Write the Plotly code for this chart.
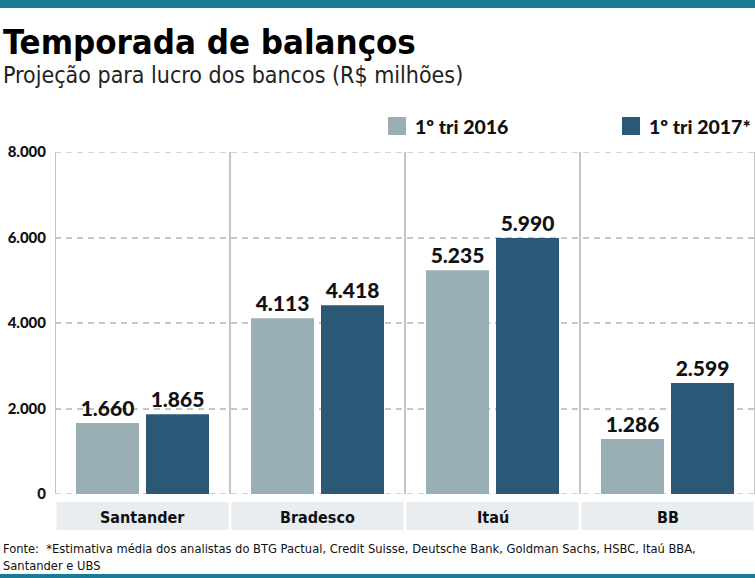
import plotly.graph_objects as go

categories = ["Santander", "Bradesco", "Itaú", "BB"]
series_names = ["1º tri 2016", "1º tri 2017*"]
values_2016 = [1660, 4113, 5235, 1286]
values_2017 = [1865, 4418, 5990, 2599]
y_ticks = [0, 2000, 4000, 6000, 8000]
y_tick_labels = ["0", "2.000", "4.000", "6.000", "8.000"]

W, H = 755, 578
L, R, T, B = 55, 0, 152, 84
PW, PH = W - L - R, H - T - B

def px(x):
    return (x - L) / PW

def py(y):
    return (H - B - y) / PH

LIGHT = "#9aaeb6"
DARK = "#2c5877"
TEAL = "#1a7b97"
NARROW = "Liberation Sans Narrow, DejaVu Sans Condensed, sans-serif"
BOLDF = "Lato, Liberation Sans, sans-serif"
GRID = "#c6c6c6"
DASH = "6px,5px"

fig = go.Figure()
for name, vals, col in [(series_names[0], values_2016, LIGHT), (series_names[1], values_2017, DARK)]:
    fig.add_trace(go.Bar(
        x=categories, y=vals, name=name, marker=dict(color=col, line=dict(width=0)),
        texttemplate="%{y:,.0f}", textposition="outside",
        textfont=dict(family=BOLDF, size=21, color="#111", weight=900),
        cliponaxis=False, showlegend=False,
    ))

shapes = []
# top and bottom teal bars
shapes.append(dict(type="rect", xref="paper", yref="paper", x0=px(0), x1=px(W), y0=py(0), y1=py(8),
                   fillcolor=TEAL, line=dict(width=0), layer="above"))
shapes.append(dict(type="rect", xref="paper", yref="paper", x0=px(0), x1=px(W), y0=py(574), y1=py(578),
                   fillcolor=TEAL, line=dict(width=0), layer="above"))
# edge grid lines (0 and top) that plotly does not draw at range ends
for v in (y_ticks[0], y_ticks[-1]):
    shapes.append(dict(type="line", xref="paper", yref="y", x0=0, x1=1, y0=v, y1=v,
                       line=dict(color=GRID, width=1.5, dash=DASH), layer="below"))
# vertical separators
for i in range(len(categories) + 1):
    shapes.append(dict(type="line", xref="x", yref="paper", x0=i - 0.5, x1=i - 0.5, y0=0, y1=1,
                       line=dict(color="#c4c4c4", width=2), layer="below"))
# category label band
for i in range(len(categories)):
    shapes.append(dict(type="rect", xref="x", yref="paper", x0=i - 0.5 + 0.008, x1=i + 0.5 - 0.008,
                       y0=py(530), y1=py(502), fillcolor="#e9edf0", line=dict(width=0), layer="below"))

annotations = []
for i, c in enumerate(categories):
    annotations.append(dict(x=i, y=py(517), xref="x", yref="paper", text=f"<b>{c}</b>", showarrow=False,
                            font=dict(family=NARROW, size=16, color="#111"), xanchor="center", yanchor="middle"))

annotations.append(dict(x=px(1), y=py(42), xref="paper", yref="paper", text="<b>Temporada de balanços</b>",
                        showarrow=False, font=dict(family=NARROW, size=34.5, color="#000"),
                        xanchor="left", yanchor="middle"))
annotations.append(dict(x=px(1), y=py(75), xref="paper", yref="paper", text="Projeção para lucro dos bancos (R$ milhões)",
                        showarrow=False, font=dict(family=NARROW, size=23, color="#222"),
                        xanchor="left", yanchor="middle"))
annotations.append(dict(x=px(1), y=py(557), xref="paper", yref="paper",
                        text="Fonte:  *Estimativa média dos analistas do BTG Pactual, Credit Suisse, Deutsche Bank, Goldman Sachs, HSBC, Itaú BBA,<br>Santander e UBS",
                        showarrow=False, align="left", font=dict(family=NARROW, size=12.8, color="#111"),
                        xanchor="left", yanchor="middle"))

# legend
for (x0, name, col) in [(388, series_names[0], LIGHT), (622, series_names[1], DARK)]:
    shapes.append(dict(type="rect", xref="paper", yref="paper", x0=px(x0), x1=px(x0 + 18), y0=py(135), y1=py(117),
                       fillcolor=col, line=dict(width=0)))
    annotations.append(dict(x=px(x0 + 25), y=py(126), xref="paper", yref="paper", text=name,
                            showarrow=False, font=dict(family=BOLDF, size=19.5, color="#111", weight=900),
                            xanchor="left", yanchor="middle"))

fig.update_layout(
    width=W, height=H, margin=dict(l=L, r=R, t=T, b=B),
    paper_bgcolor="white", plot_bgcolor="white",
    bargap=0.2, bargroupgap=0.1, barmode="group",
    separators=",.",
    shapes=shapes, annotations=annotations,
    xaxis=dict(showticklabels=False, showgrid=False, zeroline=False, showline=False, ticks="",
               range=[-0.5, len(categories) - 0.5], fixedrange=True),
    yaxis=dict(range=[0, 8000], tickvals=y_ticks, ticktext=y_tick_labels,
               tickfont=dict(family=BOLDF, size=15, color="#111", weight=900), showgrid=True, gridcolor=GRID,
               griddash=DASH, gridwidth=1.5, zeroline=False, showline=False, ticks="", ticklabelstandoff=8),
    showlegend=False,
)

fig.write_html("out.html", config={"displayModeBar": False},
               post_script="document.body.style.margin='0';document.body.style.overflow='hidden';")
